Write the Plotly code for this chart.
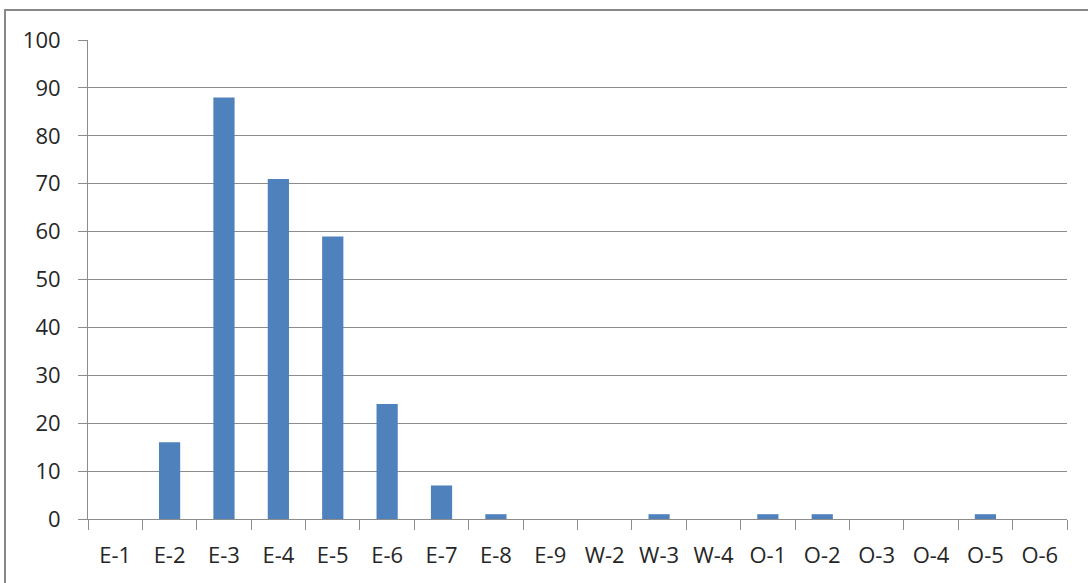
import plotly.graph_objects as go

categories = ["E-1", "E-2", "E-3", "E-4", "E-5", "E-6", "E-7", "E-8", "E-9",
              "W-2", "W-3", "W-4", "O-1", "O-2", "O-3", "O-4", "O-5", "O-6"]
counts = [0, 16, 88, 71, 59, 24, 7, 1, 0, 0, 1, 0, 1, 1, 0, 0, 1, 0]
y_ticks = [0, 10, 20, 30, 40, 50, 60, 70, 80, 90, 100]

W, H = 1088, 583
L, R, T, B = 88, 21, 40, 64
pw, ph = W - L - R, H - T - B

fig = go.Figure(go.Bar(
    x=categories, y=counts,
    marker=dict(color="#4F81BD", line=dict(width=0)),
    width=0.39,
))

font = dict(family="Open Sans, sans-serif", size=22, color="#262626")
axis_grey = "#8C8C8C"

fig.update_layout(
    width=W, height=H,
    margin=dict(l=L, r=R, t=T, b=B),
    paper_bgcolor="white", plot_bgcolor="white",
    showlegend=False,
    font=font,
    xaxis=dict(
        type="category",
        showgrid=False,
        showline=True, linecolor=axis_grey, linewidth=1,
        ticks="outside", tickson="boundaries", ticklen=10, tickcolor=axis_grey,
        tickfont=font, ticklabelstandoff=17,
    ),
    yaxis=dict(
        range=[0, 100], tickvals=y_ticks, fixedrange=True,
        showgrid=True, gridcolor=axis_grey, gridwidth=1,
        showline=True, linecolor=axis_grey, linewidth=1,
        ticks="outside", ticklen=9, tickcolor=axis_grey,
        tickfont=font, zeroline=False, ticklabelstandoff=13,
    ),
)

# outer chart frame (left and top edges visible)
fig.add_shape(
    type="rect", xref="paper", yref="paper",
    x0=(5 - L) / pw, x1=(W + 20 - L) / pw,
    y0=-(B + 20) / ph, y1=1 + (T - 10) / ph,
    line=dict(color="#888888", width=2), fillcolor="rgba(0,0,0,0)",
    layer="below",
)

fig.write_html("out.html")
